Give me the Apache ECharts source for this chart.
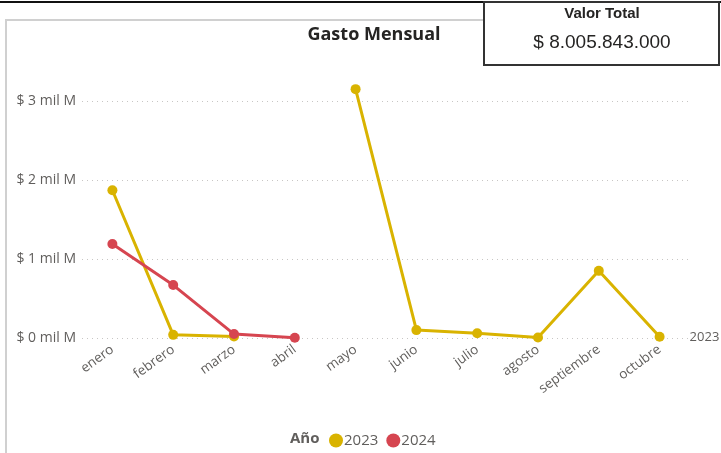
<!DOCTYPE html>
<html>
<head>
<meta charset="utf-8">
<script src="https://cdn.jsdelivr.net/npm/echarts@6/dist/echarts.min.js"></script>
<style>
  html, body { margin: 0; padding: 0; background: #fff; }
  #chart { width: 721px; height: 453px; }
</style>
</head>
<body>
<div id="chart"></div>
<script>
// Monthly spend, in thousands of millions of pesos (mil M)
const months = ['enero', 'febrero', 'marzo', 'abril', 'mayo', 'junio', 'julio', 'agosto', 'septiembre', 'octubre'];
const gasto2023 = [1.87, 0.04, 0.02, null, 3.15, 0.10, 0.06, 0.006, 0.85, 0.015];
const gasto2024 = [1.19, 0.67, 0.05, 0.004];
const yTicks = [0, 1, 2, 3];
const totalLabel = '$ 8.005.843.000';

const textGray = '#605E5C';
const uiFont = '"Open Sans", "Noto Sans", sans-serif';

const chart = echarts.init(document.getElementById('chart'), null, { renderer: 'canvas' });

chart.setOption({
  animation: false,
  title: {
    text: 'Gasto Mensual',
    left: 369,
    top: 21,
    textAlign: 'center',
    textStyle: { fontFamily: uiFont, fontWeight: 'bold', fontSize: 18, color: '#252423' }
  },
  legend: {
    data: ['2023', '2024'],
    left: 324,
    top: 428,
    icon: 'circle',
    itemWidth: 14,
    itemHeight: 14,
    itemGap: 8,
    textStyle: { fontFamily: uiFont, fontSize: 15, color: textGray, padding: [0, 0, 0, -4] }
  },
  grid: { left: 82, right: 31, top: 101, height: 237 },
  xAxis: {
    type: 'category',
    data: months,
    axisLine: { show: false },
    axisTick: { show: false },
    axisLabel: {
      rotate: 36,
      margin: 10,
      fontFamily: uiFont,
      fontSize: 13.5,
      color: textGray
    }
  },
  yAxis: {
    type: 'value',
    min: 0,
    max: yTicks[yTicks.length - 1],
    interval: 1,
    axisLine: { show: false },
    axisTick: { show: false },
    axisLabel: {
      margin: 6,
      fontFamily: uiFont,
      fontSize: 14,
      color: textGray,
      formatter: v => '$ ' + v + ' mil M'
    },
    splitLine: { lineStyle: { type: [1, 4], color: '#C8C6C4', width: 1 } }
  },
  series: [
    {
      name: '2023',
      type: 'line',
      data: gasto2023,
      clip: false,
      connectNulls: false,
      symbol: 'circle',
      symbolSize: 10,
      color: '#D9B300',
      lineStyle: { width: 3 },
      endLabel: {
        show: true,
        formatter: '{a}',
        distance: 30,
        fontFamily: uiFont,
        fontSize: 13,
        color: textGray
      }
    },
    {
      name: '2024',
      type: 'line',
      data: gasto2024,
      clip: false,
      symbol: 'circle',
      symbolSize: 10,
      color: '#D64550',
      lineStyle: { width: 3 }
    }
  ],
  graphic: [
    // outer page line
    { type: 'line', shape: { x1: 0, y1: 2, x2: 721, y2: 2 }, style: { stroke: '#111', lineWidth: 2 }, z: 10 },
    // visual frame
    { type: 'polyline', shape: { points: [[6, 460], [6, 20], [490, 20]] }, style: { stroke: '#D0D0D0', lineWidth: 2, fill: null }, z: 1 },
    // total card
    { type: 'rect', shape: { x: 484, y: 2, width: 235, height: 63 }, style: { fill: '#fff', stroke: '#333', lineWidth: 2 }, z: 20 },
    {
      type: 'text', x: 602, y: 14, z: 21,
      style: { text: 'Valor Total', align: 'center', verticalAlign: 'middle', font: 'bold 15px "Liberation Sans", Arial, sans-serif', fill: '#252423' }
    },
    {
      type: 'text', x: 602, y: 43, z: 21,
      style: { text: totalLabel, align: 'center', verticalAlign: 'middle', font: '19px "Liberation Sans", Arial, sans-serif', fill: '#252423' }
    },
    {
      type: 'text', x: 290, y: 439, z: 21,
      style: { text: 'Año', verticalAlign: 'middle', font: 'bold 15px "Open Sans", sans-serif', fill: '#605E5C' }
    }
  ]
});
</script>
</body>
</html>
